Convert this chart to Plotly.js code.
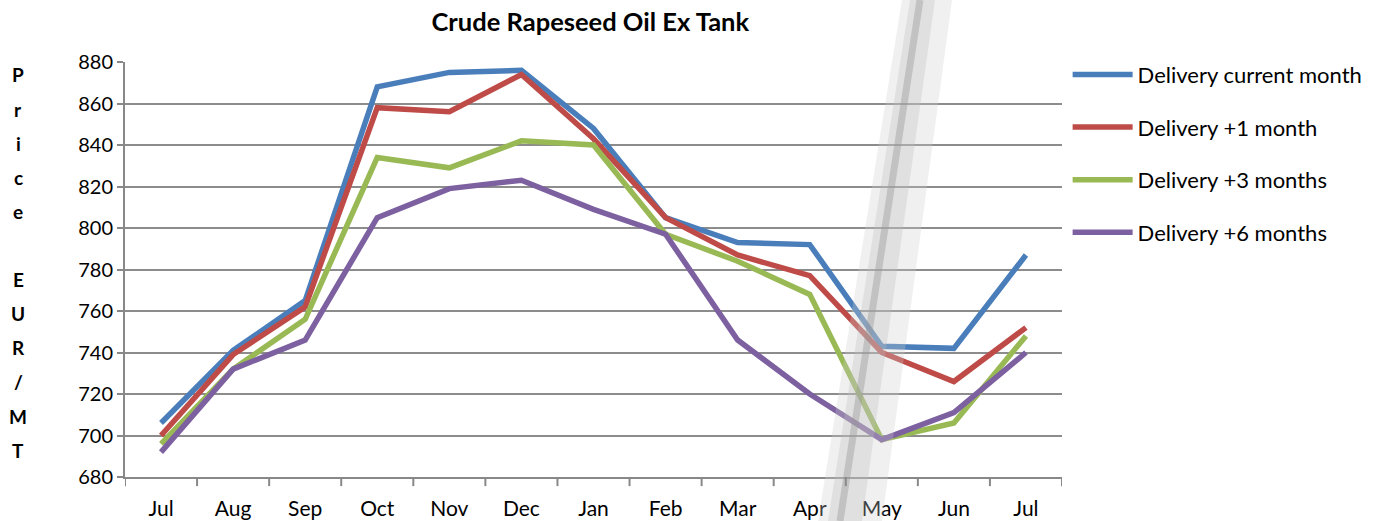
<!DOCTYPE html>
<html><head><meta charset="utf-8">
<script src="https://cdn.plot.ly/plotly-3.0.1.min.js"></script>
<style>html,body{margin:0;padding:0;background:#fff}#chart{width:1376px;height:521px}</style>
</head><body><div id="chart"></div>
<script>
const months = ["Jul","Aug","Sep","Oct","Nov","Dec","Jan","Feb","Mar","Apr","May","Jun","Jul"];
const seriesNames = ["Delivery current month","Delivery +1 month","Delivery +3 months","Delivery +6 months"];
const deliveryCurrent = [706, 741, 765, 868, 875, 876, 848, 805, 793, 792, 743, 742, 787];
const delivery1 = [700, 739, 762, 858, 856, 874, 843, 805, 787, 777, 740, 726, 752];
const delivery3 = [696, 732, 756, 834, 829, 842, 840, 797, 784, 768, 698, 706, 748];
const delivery6 = [692, 732, 746, 805, 819, 823, 809, 797, 746, 720, 698, 711, 740];
const yTicks = [680,700,720,740,760,780,800,820,840,860,880];
const yTitleLetters = ["P","r","i","c","e","","E","U","R","/","M","T"];

const colors = ["#4a7ebb","#be4b48","#98b954","#7d60a0"];
const allSeries = [deliveryCurrent, delivery1, delivery3, delivery6];
const xIdx = months.map((m,i)=>i);

const traces = allSeries.map((s,k)=>({
  x: xIdx, y: s, type: "scatter", mode: "lines", name: seriesNames[k],
  legendgroup: "g"+k,
  line: {color: colors[k], width: 5.5}
}));

const font = "Lato, 'Open Sans', sans-serif";
const annotations = yTitleLetters.map((ch,i)=>({
  text: ch ? "<b>"+ch+"</b>" : "", xref: "paper", yref: "paper",
  x: (18-125)/937, y: (477-(75+i*34.1))/415, xanchor: "center", yanchor: "middle",
  showarrow: false, font: {family: font, size: 19, color: "#000"}
}));

const px = p => (p-125)/937, py = p => (477-p)/415;
const shapes = [
  {type:"path", xref:"paper", yref:"paper", layer:"above",
   path:`M ${px(902)} ${py(0)} L ${px(952)} ${py(0)} L ${px(882)} ${py(521)} L ${px(818)} ${py(521)} Z`,
   fillcolor:"rgba(205,205,205,0.3)", line:{width:0}},
  {type:"path", xref:"paper", yref:"paper", layer:"above",
   path:`M ${px(910)} ${py(0)} L ${px(935)} ${py(0)} L ${px(862)} ${py(521)} L ${px(828)} ${py(521)} Z`,
   fillcolor:"rgba(190,190,190,0.3)", line:{width:0}},
  {type:"line", xref:"paper", yref:"paper", layer:"above",
   x0: px(920), y0: py(0), x1: px(840), y1: py(521),
   line:{color:"rgba(150,150,150,0.4)", width:7}}
];

const layout = {
  width: 1376, height: 521,
  margin: {l:125, r:314, t:62, b:44, autoexpand: false},
  paper_bgcolor: "#fff", plot_bgcolor: "#fff",
  font: {family: font, color: "#000"},
  title: {text: "<b>Crude Rapeseed Oil Ex Tank</b>", x: 0.429, xanchor: "center", y: 0.957, yanchor: "middle",
          font: {family: font, size: 25.5, color: "#000"}},
  xaxis: {range: [-0.5, 12.5], tickvals: xIdx, ticktext: months, showgrid: false,
          showline: true, linecolor: "#888", linewidth: 2, zeroline: false,
          ticks: "", ticklabelstandoff: 12, tickfont: {family: font, size: 21, color: "#000"}, fixedrange: true},
  yaxis: {range: [680, 880], tickvals: yTicks, showgrid: true, gridcolor: "#8c8c8c", gridwidth: 2,
          showline: true, linecolor: "#888", linewidth: 2, zeroline: false,
          ticks: "outside", ticklen: 6, tickcolor: "#888", tickwidth: 2,
          tickfont: {family: font, size: 20, color: "#000"}, fixedrange: true},
  showlegend: true,
  legend: {x: 1.006, xanchor: "left", y: 1.02, yanchor: "top", tracegroupgap: 21, itemwidth: 60,
           font: {family: font, size: 22, color: "#000"}, bgcolor: "rgba(0,0,0,0)"},
  annotations: annotations,
  shapes: shapes.concat(xIdx.concat([13]).map(i=>({type:"line", xref:"x", yref:"paper", x0:i-0.5, x1:i-0.5, y0:0, y1:-0.022, line:{color:"#888", width:2}})))
};

Plotly.newPlot("chart", traces, layout, {displayModeBar: false, staticPlot: true});
</script></body></html>
